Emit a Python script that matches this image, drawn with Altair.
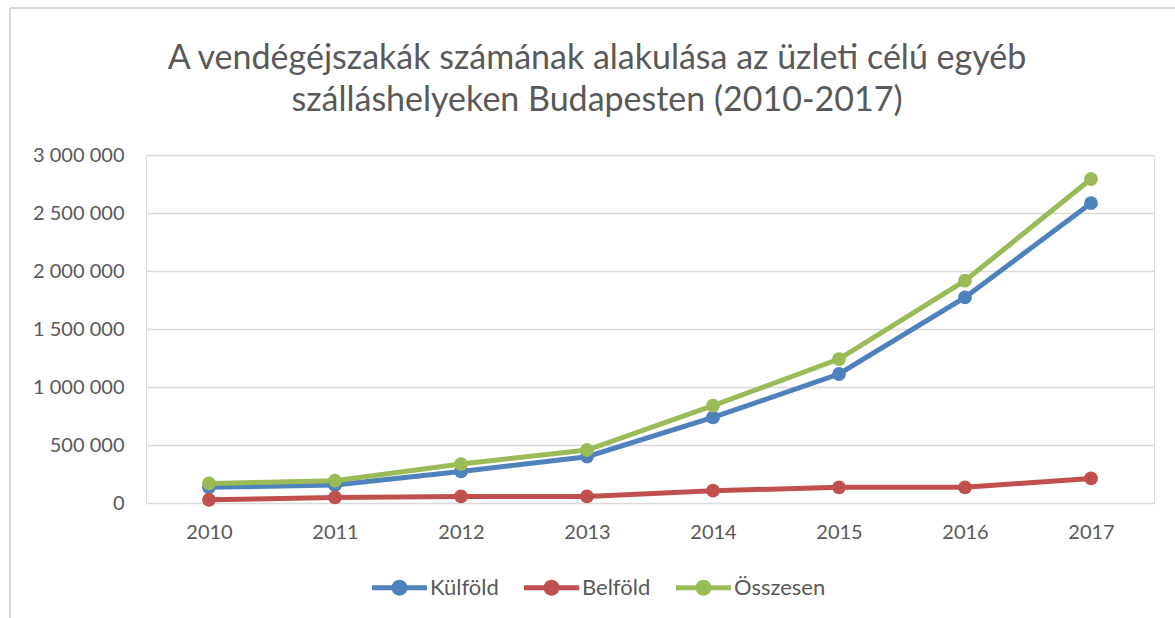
import altair as alt
import pandas as pd

years = ["2010", "2011", "2012", "2013", "2014", "2015", "2016", "2017"]
kulfold = [135000, 155000, 272000, 399000, 738000, 1112000, 1772000, 2585000]
belfold = [28000, 48000, 57000, 57000, 106000, 135000, 135000, 212000]
osszesen = [169000, 192000, 336000, 457000, 839000, 1241000, 1916000, 2793000]
series_names = ["Külföld", "Belföld", "Összesen"]
series_colors = ["#4F81BD", "#C0504D", "#9BBB59"]
y_ticks = [0, 500000, 1000000, 1500000, 2000000, 2500000, 3000000]
title_lines = [
    "A vendégéjszakák számának alakulása az üzleti célú egyéb",
    "szálláshelyeken Budapesten (2010-2017)",
]

rows = []
for name, vals in zip(series_names, [kulfold, belfold, osszesen]):
    for yr, v in zip(years, vals):
        rows.append({"Év": yr, "Sorozat": name, "Érték": v})
df = pd.DataFrame(rows)

FONT = "Lato"
TXT = "#595959"
W, H = 1008, 348
PAD_L, PAD_T = 146, 155

x_enc = alt.X("Év:O", sort=years,
              scale=alt.Scale(type="point", padding=0.5),
              axis=alt.Axis(title=None, labelAngle=0, domain=False, ticks=False,
                            labelPadding=19, labelFontSize=20, labelColor=TXT,
                            labelFont=FONT, grid=False))
y_enc = alt.Y("Érték:Q", scale=alt.Scale(domain=[0, 3000000], nice=False, zero=True),
              axis=alt.Axis(title=None, values=y_ticks, domain=False, ticks=False,
                            labelPadding=22, labelFontSize=20, labelColor=TXT,
                            labelFont=FONT, gridColor="#D9D9D9", gridWidth=1.5,
                            labelExpr="replace(format(datum.value, ','), regexp(',', 'g'), ' ')"))

legend_path = ("M-1,-0.09H1V0.09H-1Z "
               "M0.29,0A0.29,0.29,0,1,1,-0.29,0A0.29,0.29,0,1,1,0.29,0Z")

def make_legend():
    return alt.Legend(title=None, orient="none", direction="horizontal",
                      legendX=226, legendY=405,
                      symbolType=legend_path, symbolSize=3025,
                      symbolStrokeWidth=0, labelFontSize=22,
                      labelColor=TXT, labelFont=FONT, labelOffset=3,
                      columnPadding=25)

color_scale = alt.Scale(domain=series_names, range=series_colors)

base = alt.Chart(df)
lines = base.mark_line(strokeWidth=5).encode(
    x=x_enc, y=y_enc,
    stroke=alt.Stroke("Sorozat:N", sort=series_names, scale=color_scale,
                      legend=make_legend()),
    order=alt.Order("Év:O"),
)
points = base.mark_point(filled=True, size=190, opacity=1).encode(
    x=x_enc, y=y_enc,
    fill=alt.Fill("Sorozat:N", sort=series_names, scale=color_scale,
                  legend=make_legend()),
)

border_df = pd.DataFrame({"k": [0]})
border_top = alt.Chart(border_df).mark_rule(color="#D9D9D9", strokeWidth=2).encode(
    x=alt.value(10 - PAD_L), x2=alt.value(1175 - PAD_L), y=alt.value(8 - PAD_T))
border_left = alt.Chart(border_df).mark_rule(color="#D9D9D9", strokeWidth=2).encode(
    x=alt.value(10 - PAD_L), y=alt.value(8 - PAD_T), y2=alt.value(618 - PAD_T))

chart = alt.layer(border_top, border_left, lines, points).properties(
    width=W, height=H,
    title=alt.Title(title_lines, font=FONT, fontSize=34, fontWeight="normal",
                    color=TXT, anchor="middle", dx=-53, dy=139, offset=28, lineHeight=42),
    autosize=alt.AutoSizeParams(type="none"),
    padding={"left": PAD_L, "top": PAD_T, "right": 1175 - PAD_L - W, "bottom": 618 - PAD_T - H},
).configure_view(stroke=None).configure(background="white")

chart.save("out.html", embed_options={"renderer": "svg", "actions": False})
